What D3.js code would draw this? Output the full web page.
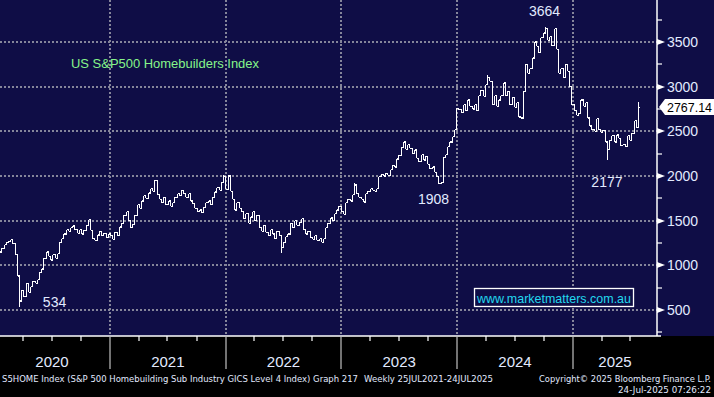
<!DOCTYPE html>
<html>
<head>
<meta charset="utf-8">
<script src="https://cdn.jsdelivr.net/npm/d3@7"></script>
<style>
  body { margin: 0; background: #000; }
  svg { display: block; }
</style>
</head>
<body>
<svg class="chart"></svg>
<script>
// weekly closes (Fridays) starting 17 Jan 2020
const closes2020 = [1150,1190,1230,1260,1270,1285,1240,1120,880,600,720,650,800,700,760,820,800,840,920,960,
  1080,1150,1100,1060,1120,1080,1130,1260,1300,1350,1400,1380,1420,1440,1400,1360,1400,1350,1390,1450,
  1510,1390,1300,1280,1340,1380,1330,1360,1310,1350];
const closes2021 = [1330,1290,1370,1330,1430,1470,1560,1600,1500,1420,1460,1560,1680,1640,1720,1780,1750,1810,1860,1830,
  1950,1790,1740,1700,1760,1680,1720,1660,1700,1760,1800,1780,1840,1800,1760,1800,1720,1690,1640,1600,
  1620,1590,1650,1700,1720,1680,1760,1820,1870,1840,1930,1990];
const closes2022 = [1850,2000,1830,1740,1620,1700,1640,1600,1520,1580,1470,1540,1600,1500,1560,1420,1380,1450,1370,1330,
  1400,1350,1300,1380,1330,1200,1260,1320,1350,1470,1420,1500,1450,1480,1520,1400,1350,1380,1310,1290,
  1330,1280,1300,1260,1300,1420,1470,1530,1500,1580,1620,1660];
const closes2023 = [1600,1570,1700,1740,1720,1790,1900,1800,1760,1740,1710,1800,1830,1860,1840,1830,1860,1990,2020,2000,
  2030,2010,2070,2120,2100,2190,2230,2320,2380,2300,2350,2310,2250,2290,2200,2160,2240,2180,2220,2130,
  2080,2100,2040,1990,1920,1930,2210,2240,2330,2380,2440,2520];
const closes2024 = [2760,2740,2710,2800,2730,2850,2780,2750,2800,2730,2900,2960,2890,3020,3100,3060,2800,2900,2780,2850,
  2900,3040,2900,2950,2800,2880,2770,2820,2660,2650,2950,3250,3150,3200,3320,3500,3450,3380,3550,3600,
  3650,3520,3560,3460,3650,3420,3150,3200,3100,3250,3170,3000,2800];
const closes2025 = [2730,2680,2700,2850,2780,2820,2650,2560,2520,2500,2640,2520,2490,2510,2380,2300,2400,2450,2380,2460,
  2420,2340,2350,2330,2450,2400,2480,2620,2540,2767.14];
const closes = [].concat(closes2020, closes2021, closes2022, closes2023, closes2024, closes2025);
const firstWeek = new Date(2020, 0, 17);

// intraweek extremes that stick out past open/close
const spikeWeeks  = [9,   70,   101,  103,  127,  160,  198,  220,  246,  250,  274,  288];
const spikeValues = [534, 1955, 2010, 2010, 1140, 1920, 1908, 3130, 3664, 3650, 2177, 2830];

const annoLabels = ["3664", "1908", "2177", "534"];
const annoDates  = [new Date(2024, 9, 3), new Date(2023, 9, 19), new Date(2025, 3, 18), new Date(2020, 6, 10)];
const annoValues = [3846, 1742, 1932, 590];

const priceTicks = [500, 1000, 1500, 2000, 2500, 3000, 3500];
const minorTicks = [250, 750, 1250, 1750, 2250, 2750, 3250, 3750];
const years = [2020, 2021, 2022, 2023, 2024, 2025];

const lastPrice = "2767.14";
const titleText = "US S&P500 Homebuilders Index";
const siteText = "www.marketmatters.com.au";

const W = 714, H = 397;
const plotRight = 657, plotBottom = 336;
const navy = "#0f0d46";
const labelColor = "#e2eaff";
const sans = "Liberation Sans, Arial, sans-serif";

const x = d3.scaleTime()
  .domain([new Date(2020, 0, 1), new Date(2026, 0, 1)])
  .range([-6, 688.7]);
const y = d3.scaleLinear().domain([500, 3500]).range([310, 42]);

const svg = d3.select("svg.chart").attr("width", W).attr("height", H);

svg.append("rect").attr("width", W).attr("height", H).attr("fill", "#000");
svg.append("rect").attr("width", W).attr("height", plotBottom).attr("fill", navy);

// dotted grid
const grid = svg.append("g")
  .attr("stroke", "#85859a").attr("stroke-width", 2).attr("stroke-dasharray", "2,2");
grid.selectAll("line.h").data(priceTicks).join("line")
  .attr("x1", 0).attr("x2", plotRight)
  .attr("y1", d => Math.round(y(d))).attr("y2", d => Math.round(y(d)));
grid.selectAll("line.v").data(years.slice(1)).join("line")
  .attr("x1", d => Math.round(x(new Date(d, 0, 1)))).attr("x2", d => Math.round(x(new Date(d, 0, 1))))
  .attr("y1", 0).attr("y2", plotBottom);

// weekly bars
const weeks = closes.map((c, i) => {
  const date = d3.timeWeek.offset(firstWeek, i);
  const open = i > 0 ? closes[i - 1] : c;
  let hi = Math.max(open, c), lo = Math.min(open, c);
  const s = spikeWeeks.indexOf(i);
  if (s >= 0) { hi = Math.max(hi, spikeValues[s]); lo = Math.min(lo, spikeValues[s]); }
  return { date, open, close: c, hi, lo };
});

const bars = svg.append("g").attr("stroke", "#fff").attr("stroke-width", 1.2)
  .attr("shape-rendering", "crispEdges");
const bar = bars.selectAll("g").data(weeks).join("g")
  .attr("transform", d => `translate(${Math.round(x(d.date)) + 0.5},0)`);
bar.append("line").attr("y1", d => y(d.hi)).attr("y2", d => y(d.lo));
bar.append("line").attr("x1", -1.2).attr("x2", 0).attr("y1", d => y(d.open)).attr("y2", d => y(d.open));
bar.append("line").attr("x1", 0).attr("x2", 1.2).attr("y1", d => y(d.close)).attr("y2", d => y(d.close));

// axes lines
svg.append("line").attr("x1", plotRight).attr("x2", plotRight).attr("y1", 0).attr("y2", plotBottom)
  .attr("stroke", "#fff").attr("stroke-width", 1.5);
svg.append("line").attr("x1", 0).attr("x2", plotRight + 4).attr("y1", plotBottom).attr("y2", plotBottom)
  .attr("stroke", "#fff").attr("stroke-width", 1.5);

// right axis ticks and labels
const ra = svg.append("g");
ra.selectAll("path").data(priceTicks).join("path")
  .attr("d", d => { const yy = Math.round(y(d)); return `M${plotRight},${yy - 3}L${plotRight + 8},${yy}L${plotRight},${yy + 3}Z`; })
  .attr("fill", "#fff");
ra.selectAll("line").data(minorTicks).join("line")
  .attr("x1", plotRight).attr("x2", plotRight + 5)
  .attr("y1", d => Math.round(y(d))).attr("y2", d => Math.round(y(d)))
  .attr("stroke", "#fff").attr("stroke-width", 1.2);
ra.selectAll("text").data(priceTicks).join("text")
  .attr("x", 667).attr("y", d => y(d) + 5)
  .attr("fill", labelColor).attr("font-family", sans).attr("font-size", 14)
  .text(d => d);

// last price tag
const ly = Math.round(y(2767.14));
svg.append("path")
  .attr("d", `M659,${ly}L665,${ly - 8}L714,${ly - 8}L714,${ly + 8}L665,${ly + 8}Z`)
  .attr("fill", "#fff");
svg.append("text").attr("x", 667).attr("y", ly + 5)
  .attr("font-family", sans).attr("font-size", 13).attr("fill", "#000")
  .attr("textLength", 45).attr("lengthAdjust", "spacingAndGlyphs")
  .text(lastPrice);

// bottom axis: quarter ticks, year separators, year labels
const quarters = d3.timeMonth.every(3).range(new Date(2020, 0, 1), new Date(2025, 8, 1))
  .filter(d => d.getMonth() !== 0 && x(d) < plotRight);
svg.append("g").selectAll("line").data(quarters).join("line")
  .attr("x1", d => Math.round(x(d))).attr("x2", d => Math.round(x(d)))
  .attr("y1", plotBottom).attr("y2", plotBottom + 5)
  .attr("stroke", "#fff").attr("stroke-width", 1.2);
svg.append("g").selectAll("line").data(years.slice(1)).join("line")
  .attr("x1", d => Math.round(x(new Date(d, 0, 1)))).attr("x2", d => Math.round(x(new Date(d, 0, 1))))
  .attr("y1", plotBottom + 1).attr("y2", 369)
  .attr("stroke", "#9a9a9a").attr("stroke-width", 1.5);
svg.append("g").selectAll("text").data(years).join("text")
  .attr("x", d => (Math.max(x(new Date(d, 0, 1)), -6) + Math.min(x(new Date(d + 1, 0, 1)), plotRight)) / 2)
  .attr("y", 367).attr("text-anchor", "middle")
  .attr("fill", labelColor).attr("font-family", sans).attr("font-size", 15)
  .text(d => d);

// annotations
svg.append("g").selectAll("text").data(annoLabels).join("text")
  .attr("x", (d, i) => x(annoDates[i])).attr("y", (d, i) => y(annoValues[i]) + 5)
  .attr("text-anchor", "middle")
  .attr("fill", labelColor).attr("font-family", sans).attr("font-size", 14)
  .text(d => d);

// title
svg.append("text").attr("x", 71).attr("y", 68)
  .attr("fill", "#86f58a").attr("font-family", sans).attr("font-size", 13)
  .attr("textLength", 188).attr("lengthAdjust", "spacingAndGlyphs")
  .text(titleText);

// watermark box
svg.append("rect").attr("x", 474.5).attr("y", 288.5).attr("width", 159).attr("height", 18)
  .attr("fill", navy).attr("stroke", "#fff").attr("stroke-width", 1.3);
svg.append("text").attr("x", 477).attr("y", 302.5)
  .attr("fill", "#22d8ee").attr("font-family", sans).attr("font-size", 13)
  .attr("textLength", 154).attr("lengthAdjust", "spacingAndGlyphs")
  .text(siteText);

// footer
const foot = svg.append("g").attr("fill", "#e2eaff")
  .attr("font-family", "DejaVu Sans Condensed, DejaVu Sans, sans-serif").attr("font-size", 9);
foot.append("text").attr("x", 2).attr("y", 382)
  .attr("textLength", 356).attr("lengthAdjust", "spacingAndGlyphs")
  .text("S5HOME Index (S&P 500 Homebuilding Sub Industry GICS Level 4 Index) Graph 217");
foot.append("text").attr("x", 364).attr("y", 382)
  .attr("textLength", 129).attr("lengthAdjust", "spacingAndGlyphs")
  .text("Weekly 25JUL2021-24JUL2025");
foot.append("text").attr("x", 539).attr("y", 382)
  .attr("textLength", 172).attr("lengthAdjust", "spacingAndGlyphs")
  .text("Copyright© 2025 Bloomberg Finance L.P.");
foot.append("text").attr("x", 618).attr("y", 393)
  .attr("textLength", 93).attr("lengthAdjust", "spacingAndGlyphs")
  .text("24-Jul-2025 07:26:22");
</script>
</body>
</html>
